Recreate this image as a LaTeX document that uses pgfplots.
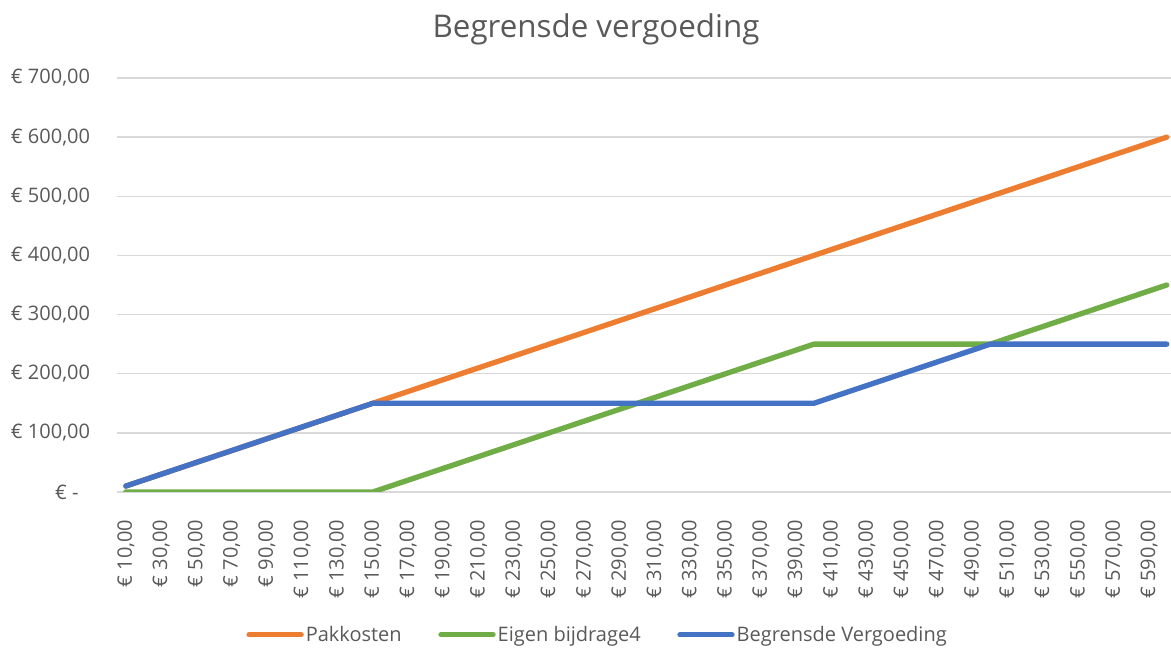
\documentclass[border=0pt]{standalone}
\usepackage{pgfplots}
\pgfplotsset{compat=1.18}
\usepackage{pgfplotstable}
\usepackage{fontspec}
\setmainfont{Open Sans}
\definecolor{txtgray}{HTML}{595959}
\definecolor{gridgray}{HTML}{D9D9D9}
\definecolor{xlorange}{HTML}{ED7D31}
\definecolor{xlgreen}{HTML}{70AD47}
\definecolor{xlblue}{HTML}{4472C4}

\pgfplotstableread{
i pak eig ver
0 10 0 10
1 20 0 20
2 30 0 30
3 40 0 40
4 50 0 50
5 60 0 60
6 70 0 70
7 80 0 80
8 90 0 90
9 100 0 100
10 110 0 110
11 120 0 120
12 130 0 130
13 140 0 140
14 150 0 150
15 160 10 150
16 170 20 150
17 180 30 150
18 190 40 150
19 200 50 150
20 210 60 150
21 220 70 150
22 230 80 150
23 240 90 150
24 250 100 150
25 260 110 150
26 270 120 150
27 280 130 150
28 290 140 150
29 300 150 150
30 310 160 150
31 320 170 150
32 330 180 150
33 340 190 150
34 350 200 150
35 360 210 150
36 370 220 150
37 380 230 150
38 390 240 150
39 400 250 150
40 410 250 160
41 420 250 170
42 430 250 180
43 440 250 190
44 450 250 200
45 460 250 210
46 470 250 220
47 480 250 230
48 490 250 240
49 500 250 250
50 510 260 250
51 520 270 250
52 530 280 250
53 540 290 250
54 550 300 250
55 560 310 250
56 570 320 250
57 580 330 250
58 590 340 250
59 600 350 250
}\datatable

\begin{document}
\begin{tikzpicture}
\useasboundingbox (-87.75pt,-117pt) rectangle (790.5pt,369pt);
\begin{axis}[
  at={(0,0)}, anchor=south west,
  scale only axis,
  width=790.5pt, height=310.5pt,
  xmin=-0.5, xmax=59.24,
  ymin=0, ymax=700,
  axis line style={draw=none},
  major tick length=0pt,
  tick style={draw=none},
  ymajorgrids,
  grid style={gridgray, line width=1pt},
  ytick={0,100,...,700},
  yticklabels={{€ -\phantom{0}},{€ 100,00},{€ 200,00},{€ 300,00},{€ 400,00},{€ 500,00},{€ 600,00},{€ 700,00}},
  xtick={0,2,...,58},
  xticklabels={{€ 10,00},{€ 30,00},{€ 50,00},{€ 70,00},{€ 90,00},{€ 110,00},{€ 130,00},{€ 150,00},{€ 170,00},{€ 190,00},{€ 210,00},{€ 230,00},{€ 250,00},{€ 270,00},{€ 290,00},{€ 310,00},{€ 330,00},{€ 350,00},{€ 370,00},{€ 390,00},{€ 410,00},{€ 430,00},{€ 450,00},{€ 470,00},{€ 490,00},{€ 510,00},{€ 530,00},{€ 550,00},{€ 570,00},{€ 590,00}},
  ticklabel style={font=\fontsize{15pt}{18pt}\selectfont, text=txtgray, inner sep=0pt},
  xticklabel style={rotate=90, anchor=east},
  yticklabel style={anchor=east},
  xticklabel shift=20.5pt,
  yticklabel shift=20pt,
  title={Begrensde vergoeding},
  title style={at={(axis description cs:0.4545,1.099)}, anchor=center, font=\fontsize{23.5pt}{28pt}\selectfont, text=txtgray},
  legend style={at={(axis description cs:0.456,-0.345)}, anchor=center, draw=none, fill=none,
    font=\fontsize{15pt}{18pt}\selectfont, text=txtgray,
    /tikz/every even column/.append style={column sep=26pt},
    /tikz/every odd column/.append style={column sep=0pt},
    nodes={inner sep=1.5pt}},
  legend columns=3,
  legend image code/.code={\draw[#1, line width=4pt, line cap=round] (0pt,0pt) -- (39pt,0pt);},
  every axis plot/.append style={line width=4pt, line cap=round, line join=round},
]
\addplot[xlorange, mark=none] table[x=i, y=pak] {\datatable};
\addlegendentry{Pakkosten}
\addplot[xlgreen, mark=none] table[x=i, y=eig] {\datatable};
\addlegendentry{Eigen bijdrage4}
\addplot[xlblue, mark=none] table[x=i, y=ver] {\datatable};
\addlegendentry{Begrensde Vergoeding}
\end{axis}
\end{tikzpicture}
\end{document}
